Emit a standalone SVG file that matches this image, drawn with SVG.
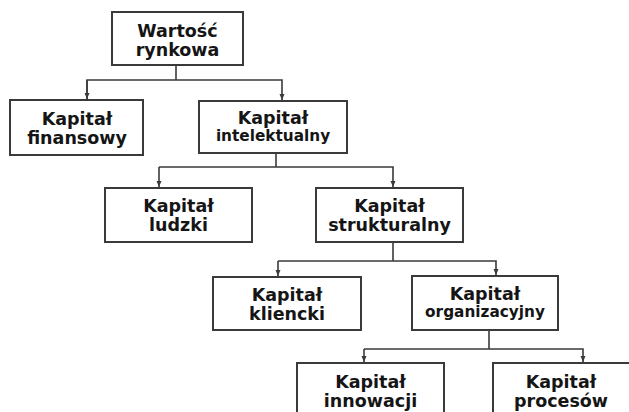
<svg xmlns="http://www.w3.org/2000/svg" width="629" height="412" viewBox="0 0 629 412">
<style>
.box{fill:#fff;stroke:#3a3a3a;stroke-width:2}
.t{font-family:"DejaVu Sans",Verdana,sans-serif;font-weight:bold;font-size:17.5px;fill:#151515;text-anchor:middle}
.s{font-size:15.3px}
.c{fill:none;stroke:#3a3a3a;stroke-width:1.6}
</style>
<defs>
<marker id="ah" viewBox="0 0 6 6" refX="6" refY="3" markerWidth="6" markerHeight="6" markerUnits="userSpaceOnUse" orient="auto">
<path d="M0,0.5 L6,3 L0,5.5 Z" fill="#3a3a3a"/>
</marker>
</defs>
<rect width="629" height="412" fill="#fff"/>
<g id="connectors">
<path class="c" d="M176,65 V80"/>
<path class="c" d="M87,100 V80 H282 V100" marker-end="url(#ah)"/>
<path class="c" d="M87,80 V99" marker-end="url(#ah)"/>
<path class="c" d="M276,153 V167"/>
<path class="c" d="M159,167 H393 V187" marker-end="url(#ah)"/>
<path class="c" d="M159,167 V187" marker-end="url(#ah)"/>
<path class="c" d="M393,242 V261"/>
<path class="c" d="M278,261 H496 V275" marker-end="url(#ah)"/>
<path class="c" d="M278,261 V276" marker-end="url(#ah)"/>
<path class="c" d="M489,330 V349"/>
<path class="c" d="M364,349 H583 V362" marker-end="url(#ah)"/>
<path class="c" d="M364,349 V362" marker-end="url(#ah)"/>
</g>
<g id="wartosc">
<rect class="box" x="112" y="12" width="131" height="53"/>
<text class="t" x="177.5" y="37">Wartość</text>
<text class="t" x="177.5" y="56">rynkowa</text>
</g>
<g id="finansowy">
<rect class="box" x="10" y="100" width="133" height="55"/>
<text class="t" x="77" y="125">Kapitał</text>
<text class="t" x="77" y="144">finansowy</text>
</g>
<g id="intelektualny">
<rect class="box" x="199" y="101" width="148" height="52"/>
<text class="t" x="273" y="124">Kapitał</text>
<text class="t s" x="273" y="141">intelektualny</text>
</g>
<g id="ludzki">
<rect class="box" x="105" y="188" width="147" height="54"/>
<text class="t" x="178.5" y="212">Kapitał</text>
<text class="t" x="178.5" y="231">ludzki</text>
</g>
<g id="strukturalny">
<rect class="box" x="316" y="188" width="147" height="54"/>
<text class="t" x="389.5" y="212">Kapitał</text>
<text class="t" x="389.5" y="231">strukturalny</text>
</g>
<g id="kliencki">
<rect class="box" x="213" y="277" width="148" height="53"/>
<text class="t" x="287" y="301">Kapitał</text>
<text class="t" x="287" y="320">kliencki</text>
</g>
<g id="organizacyjny">
<rect class="box" x="412" y="276" width="146" height="54"/>
<text class="t" x="485" y="300">Kapitał</text>
<text class="t s" x="485" y="317">organizacyjny</text>
</g>
<g id="innowacji">
<rect class="box" x="297" y="363" width="147" height="56"/>
<text class="t" x="370.5" y="388">Kapitał</text>
<text class="t" x="370.5" y="407">innowacji</text>
</g>
<g id="procesow">
<rect class="box" x="493" y="363" width="150" height="56"/>
<text class="t" x="561" y="388">Kapitał</text>
<text class="t" x="561" y="407">procesów</text>
</g>
</svg>
